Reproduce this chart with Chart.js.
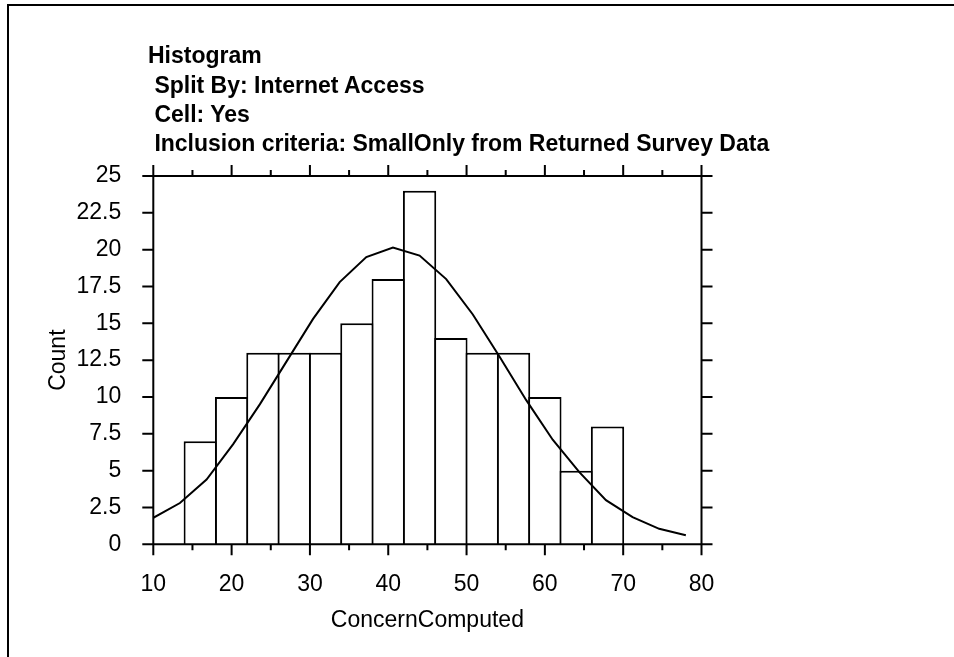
<!DOCTYPE html>
<html>
<head>
<meta charset="utf-8">
<title>Histogram – ConcernComputed</title>
<script src="https://cdn.jsdelivr.net/npm/chart.js@4/dist/chart.umd.min.js"></script>
<style>
  html, body { margin: 0; padding: 0; background: #fff; }
  #wrap { position: relative; width: 954px; height: 657px; overflow: hidden; }
  #frame { position: absolute; left: 7px; top: 4px; width: 1000px; height: 700px;
           border-left: 2px solid #000; border-top: 2px solid #000; }
  #chart { position: absolute; left: 0; top: 0; }
  .hdr { position: absolute; left: 148px; font: bold 23px "Liberation Sans", Arial, sans-serif;
         line-height: 23px; white-space: pre; color: #000; }
</style>
</head>
<body>
<div id="wrap">
  <div id="frame"></div>
  <canvas id="chart" width="954" height="657"></canvas>
  <div class="hdr" style="top:44px">Histogram</div>
  <div class="hdr" style="top:74px"> Split By: Internet Access</div>
  <div class="hdr" style="top:102.5px"> Cell: Yes</div>
  <div class="hdr" style="top:132px"> Inclusion criteria: SmallOnly from Returned Survey Data</div>
</div>
<script>
// Histogram bins (width 4) of ConcernComputed, cell "Yes"
const binStarts = [14, 18, 22, 26, 30, 34, 38, 42, 46, 50, 54, 58, 62, 66];
const binWidth = 4;
const counts    = [7, 10, 13, 13, 13, 15, 18, 24, 14, 13, 13, 10, 5, 8];

// Fitted normal curve, sampled points
const curveX = [10, 13.4, 16.8, 20.2, 23.6, 27, 30.4, 33.8, 37.2, 40.6, 44,
                47.4, 50.8, 54.2, 57.6, 61, 64.4, 67.8, 71.2, 74.6, 78];
const curveY = [1.8, 2.8, 4.4, 6.8, 9.5, 12.4, 15.3, 17.8, 19.5, 20.15, 19.6,
                18.0, 15.6, 12.75, 9.8, 7.1, 4.9, 3.0, 1.85, 1.05, 0.62];

// Axis ticks
const xTicks = [10, 20, 30, 40, 50, 60, 70, 80];
const xMinorTicks = [15, 25, 35, 45, 55, 65, 75];
const yTicks = [0, 2.5, 5, 7.5, 10, 12.5, 15, 17.5, 20, 22.5, 25];
const yTickLabels = ['0', '2.5', '5', '7.5', '10', '12.5', '15', '17.5', '20', '22.5', '25'];

const FONT = '"Liberation Sans", Arial, sans-serif';

// Frame around the plot with outward tick marks on all four sides
const framePlugin = {
  id: 'frameTicks',
  afterDatasetsDraw(chart) {
    const {ctx, scales: {x, y}} = chart;
    const L = x.getPixelForValue(x.min), R = x.getPixelForValue(x.max);
    const T = y.getPixelForValue(y.max), B = y.getPixelForValue(y.min);
    const major = 11, minor = 6;
    ctx.save();
    ctx.strokeStyle = '#000';
    ctx.lineWidth = 2;
    ctx.lineCap = 'butt';
    ctx.beginPath();
    // box edges, extended past the corners like the corner ticks
    ctx.moveTo(L - major, T); ctx.lineTo(R + major, T);
    ctx.moveTo(L - major, B); ctx.lineTo(R + major, B);
    ctx.moveTo(L, T - major); ctx.lineTo(L, B + major);
    ctx.moveTo(R, T - major); ctx.lineTo(R, B + major);
    xTicks.forEach(v => {
      const px = x.getPixelForValue(v);
      ctx.moveTo(px, T); ctx.lineTo(px, T - major);
      ctx.moveTo(px, B); ctx.lineTo(px, B + major);
    });
    xMinorTicks.forEach(v => {
      const px = x.getPixelForValue(v);
      ctx.moveTo(px, T); ctx.lineTo(px, T - minor);
      ctx.moveTo(px, B); ctx.lineTo(px, B + minor);
    });
    yTicks.forEach(v => {
      const py = y.getPixelForValue(v);
      ctx.moveTo(L, py); ctx.lineTo(L - major, py);
      ctx.moveTo(R, py); ctx.lineTo(R + major, py);
    });
    ctx.stroke();
    ctx.restore();
  }
};

// Bars slightly wider than the bin so neighbouring 2px outlines coincide
const unitPx = (701.5 - 153.3) / 70;
const barScale = (binWidth * unitPx + 2) / (binWidth * unitPx);

new Chart(document.getElementById('chart'), {
  data: {
    datasets: [
      {
        type: 'line',
        order: 0,
        data: curveX.map((v, i) => ({x: v, y: curveY[i]})),
        borderColor: '#000',
        borderWidth: 2,
        pointRadius: 0,
        tension: 0,
        fill: false
      },
      {
        type: 'bar',
        order: 1,
        data: binStarts.map((s, i) => ({x: s + binWidth / 2, y: counts[i]})),
        backgroundColor: '#fff',
        borderColor: '#000',
        borderWidth: 2,
        barPercentage: barScale,
        categoryPercentage: 1
      }
    ]
  },
  options: {
    responsive: false,
    animation: false,
    devicePixelRatio: 1,
    layout: { padding: { left: 0, top: 176, right: 954 - 701.5, bottom: 0 } },
    plugins: { legend: { display: false }, tooltip: { enabled: false }, title: { display: false } },
    scales: {
      x: {
        type: 'linear',
        position: 'bottom',
        offset: false,
        min: 10, max: 80,
        afterFit(scale) { scale.height = 657 - 544.3; },
        afterBuildTicks(scale) { scale.ticks = xTicks.map(v => ({value: v})); },
        grid: { display: false, drawTicks: false, offset: false },
        border: { display: false },
        ticks: { color: '#000', font: { family: FONT, size: 23 }, padding: 27, maxRotation: 0,
                 callback: v => String(v) },
        title: { display: true, text: 'ConcernComputed', color: '#000',
                 font: { family: FONT, size: 23 }, padding: { top: 0, bottom: 23 } }
      },
      y: {
        type: 'linear',
        position: 'left',
        min: 0, max: 25,
        afterFit(scale) { scale.width = 153.3; },
        afterBuildTicks(scale) { scale.ticks = yTicks.map(v => ({value: v})); },
        grid: { display: false, drawTicks: false },
        border: { display: false },
        ticks: { color: '#000', font: { family: FONT, size: 23 }, padding: 32,
                 callback: (v) => yTickLabels[yTicks.indexOf(v)] ?? String(v) },
        title: { display: true, text: 'Count', color: '#000',
                 font: { family: FONT, size: 23 }, padding: { top: 45, bottom: 0 } }
      }
    }
  },
  plugins: [framePlugin]
});
</script>
</body>
</html>
